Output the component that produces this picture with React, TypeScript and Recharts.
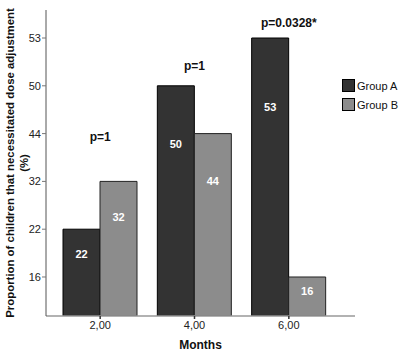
import React from "react";
import {
  BarChart,
  Bar,
  XAxis,
  YAxis,
  Legend,
  LabelList,
  ReferenceDot,
} from "recharts";

// y axis is drawn on an ordinal scale: each tick label sits one unit above the previous
const yTickLabels = [16, 22, 32, 44, 50, 53];
const months = ["2,00", "4,00", "6,00"];
const groupA = [22, 50, 53];
const groupB = [32, 44, 16];
const pTexts = ["p=1", "p=1", "p=0.0328*"];
// height of each p annotation, in y axis units
const pLevels = [3.93, 5.41, 6.31];

const FONT = "'Liberation Sans', Arial, sans-serif";
const COLOR_A = "#333333";
const COLOR_B = "#8c8c8c";

const toAxis = (v: number) => yTickLabels.indexOf(v) + 1;

const data = months.map((m, i) => ({
  month: m,
  a: toAxis(groupA[i]),
  b: toAxis(groupB[i]),
  aVal: groupA[i],
  bVal: groupB[i],
}));

const yTicks = yTickLabels.map((_, i) => i + 1);

// white value label, placed in the upper part of each bar
const BarValue = (props: any) => {
  const { x = 0, y = 0, width = 0, height = 0, value } = props;
  const cy = y + height * 0.23 + 5;
  return (
    <text
      x={x + width / 2}
      y={cy}
      textAnchor="middle"
      dominantBaseline="central"
      fill="#ffffff"
      fontFamily={FONT}
      fontSize={11}
      fontWeight="bold"
    >
      {value}
    </text>
  );
};

const YTitle = (props: any) => {
  const { viewBox } = props;
  const cy = viewBox.y + viewBox.height / 2;
  return (
    <g fontFamily={FONT} fontSize={11.4} fontWeight="bold" fill="#111">
      <text x={10} y={cy} textAnchor="middle" dominantBaseline="central" transform={`rotate(-90 10 ${cy})`}>
        Proportion of children that necessitated dose adjustment
      </text>
      <text x={24} y={cy} textAnchor="middle" dominantBaseline="central" transform={`rotate(-90 24 ${cy})`}>
        (%)
      </text>
    </g>
  );
};

const LegendBox = (props: any) => {
  const { payload = [] } = props;
  return (
    <div style={{ fontFamily: FONT, fontSize: 11, color: "#111" }}>
      {payload.map((p: any) => (
        <div key={p.value} style={{ display: "flex", alignItems: "center", height: 19 }}>
          <span
            style={{
              display: "inline-block",
              width: 11,
              height: 11,
              background: p.color,
              border: "1px solid #000",
              marginRight: 2,
            }}
          />
          {p.value}
        </div>
      ))}
    </div>
  );
};

export default function App() {
  return (
    <div style={{ position: "absolute", left: 0, top: 0, background: "#fff" }}>
      <BarChart
        width={400}
        height={358}
        data={data}
        margin={{ top: 10, right: 45, bottom: 0, left: 0 }}
        barGap={0}
        barSize={37}
      >
        <XAxis
          dataKey="month"
          height={42}
          padding={{ left: 7, right: 19 }}
          stroke="#999"
          strokeWidth={1.5}
          tickSize={3}
          tickMargin={2}
          tickLine={{ stroke: "#333" }}
          tick={{ fill: "#222", fontSize: 11, fontFamily: FONT }}
          label={{
            value: "Months",
            position: "insideBottom",
            offset: 9,
            fill: "#111",
            fontSize: 12,
            fontWeight: "bold",
            fontFamily: FONT,
          }}
        />
        <YAxis
          type="number"
          width={46}
          domain={[0.184, 6.586]}
          allowDataOverflow
          ticks={yTicks}
          tickFormatter={(v: number) => String(yTickLabels[v - 1])}
          stroke="#555"
          tickSize={4}
          tickMargin={1}
          tickLine={{ stroke: "#777" }}
          tick={{ fill: "#222", fontSize: 11, fontFamily: FONT }}
          label={<YTitle />}
        />
        <Legend
          layout="vertical"
          align="center"
          verticalAlign="middle"
          wrapperStyle={{ left: 342, top: 76, width: 60 }}
          content={<LegendBox />}
        />
        <Bar dataKey="a" name="Group A" fill={COLOR_A} stroke="#000" strokeWidth={1} isAnimationActive={false}>
          <LabelList dataKey="aVal" content={<BarValue />} />
        </Bar>
        <Bar dataKey="b" name="Group B" fill={COLOR_B} stroke="#222" strokeWidth={1} isAnimationActive={false}>
          <LabelList dataKey="bVal" content={<BarValue />} />
        </Bar>
        {months.map((m, i) => (
          <ReferenceDot
            key={m}
            x={m}
            y={pLevels[i]}
            r={0}
            fill="none"
            stroke="none"
            label={{
              value: pTexts[i],
              position: "center",
              fill: "#111",
              fontSize: 12,
              fontWeight: "bold",
              fontFamily: FONT,
            }}
          />
        ))}
      </BarChart>
    </div>
  );
}
